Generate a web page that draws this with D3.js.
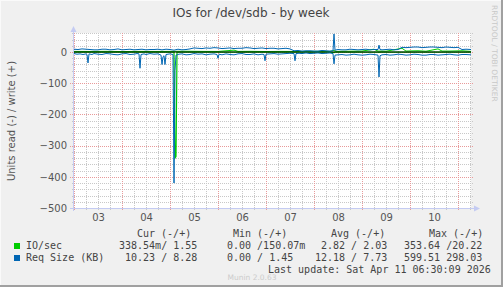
<!DOCTYPE html>
<html>
<head>
<meta charset="utf-8">
<script src="https://cdn.jsdelivr.net/npm/d3@7"></script>
<style>
  html, body { margin: 0; padding: 0; background: #F0F0F0; }
  svg { display: block; }
  .mono { font-family: "DejaVu Sans Mono", monospace; font-size: 10px; fill: #444; white-space: pre; }
  .sans { font-family: "DejaVu Sans", sans-serif; }
</style>
</head>
<body>
<script>
// hours after Apr 3 2026 00:00 (UTC), value
const ioRead = [[0,-0.5],[8,-0.3],[16,-0.6],[24,-0.4],[32,-0.5],[40,-0.3],[48,-0.4],[50,-0.5],[50.5,-340],[51,-335],[51.5,-0.6],[56,-0.4],[64,-0.3],[72,-0.5],[80,-0.3],[88,-0.4],[96,-0.3],[104,-0.5],[112,-0.4],[120,-0.3],[128,-0.4],[130,-2],[130.5,-0.4],[136,-0.3],[144,-0.5],[152,-0.4],[152.5,-1.5],[153,-0.4],[160,-0.3],[168,-0.5],[176,-0.4],[184,-0.3],[192,-0.4],[198.5,-0.3]];
const ioWrite = [[0,2],[8,1.8],[16,2.2],[24,1.5],[32,2],[40,1.8],[48,2],[56,2.5],[64,2],[72,1.8],[80,6],[82,2],[88,2.2],[96,1.6],[104,2],[112,1.8],[120,2.2],[128,2],[130,5],[131,2],[136,2.4],[144,3],[150,9],[152,3],[156,2.5],[164,12],[166,3],[172,4],[176,2.5],[182,10],[184,3],[188,3],[194,4],[198.5,2]];
const reqRead = [[0,-5],[1.5,-7],[3,-6],[4.5,-8],[6,-6],[6.5,-8],[7,-35],[7.5,-6],[9,-8],[10,-5],[12,-7],[14,-8],[16,-5],[18,-6],[20,-8],[22,-9],[24,-6],[26,-5],[28,-8],[30,-7],[31.5,-5],[32.5,-6],[33,-52],[33.5,-8],[35,-6],[36,-8],[38,-5],[40,-7],[42,-6],[43.5,-10],[44,-40],[44.5,-15],[45,-12],[45.5,-40],[46,-8],[48,-6],[49.5,-8],[50,-420],[50.5,-60],[51,-10],[52.5,-7],[54,-6],[56,-9],[58,-8],[60,-5],[62,-7],[64,-6],[66,-9],[68,-7],[70,-6],[71.5,-8],[72,-20],[72.5,-7],[74,-9],[76,-6],[78,-8],[80,-9],[82,-6],[84,-5],[86,-8],[88,-8],[90,-6],[92,-9],[94,-7],[95,-8],[95.5,-28],[96,-7],[98,-6],[100,-5],[102,-7],[104,-6],[106,-5],[108,-4],[110,-5],[110.5,-28],[111,-5],[112.5,-4],[114,-5],[116,-3],[118,-5],[120,-4],[122,-3],[124,-5],[126,-4],[128,-3],[129.5,-5],[130,-38],[130.5,-10],[132,-9],[134,-8],[136,-10],[138,-9],[140,-7],[142,-9],[144,-10],[146,-9],[148,-7],[150,-8],[152,-10],[152.5,-80],[153,-12],[154,-9],[156,-8],[158,-10],[160,-9],[162,-7],[164,-8],[166,-10],[168,-9],[170,-7],[172,-8],[174,-10],[176,-10],[178,-8],[180,-8],[182,-10],[184,-9],[186,-8],[188,-7],[190,-9],[192,-10],[194,-8],[196,-8],[198.5,-9]];
const reqWrite = [[0,9],[2,8],[4,10],[6,9],[8,8],[10,7],[12,7],[14,9],[16,9],[18,7],[20,8],[22,10],[24,7],[26,8],[28,9],[30,7],[32,8],[34,9],[36,7],[38,8],[40,8],[42,9],[44,7],[46,9],[48,8],[50,6],[52,9],[54,7],[56,8],[58,10],[60,13],[62,12],[64,11],[66,13],[68,12],[70,14],[72,13],[74,11],[76,12],[78,13],[80,11],[82,12],[84,12],[86,14],[88,13],[90,11],[92,12],[94,13],[96,11],[98,12],[100,12],[102,10],[104,11],[106,12],[108,10],[110,4],[112,5],[114,3],[116,4],[118,4],[120,3],[122,3],[124,5],[126,4],[128,3],[129.5,4],[130,58],[130.5,6],[132,8],[134,7],[136,7],[138,9],[140,8],[142,7],[144,8],[146,9],[148,7],[150,8],[152,8],[152.5,22],[153,8],[154,7],[156,8],[158,9],[160,7],[162,8],[164,15],[166,14],[168,15],[170,16],[172,16],[174,14],[176,15],[178,16],[180,16],[182,15],[184,14],[186,16],[188,15],[190,14],[192,15],[194,8],[196,9],[198.5,8]];

const yTicks = [0, -100, -200, -300, -400, -500];
const dayLabels = ['03','04','05','06','07','08','09','10'];

const legendRows = [
  { name: 'IO/sec', color: '#00CC00', cur: '338.54m/ 1.55', min: '0.00 /150.07m', avg: ' 2.82 / 2.03', max: '353.64 /20.22' },
  { name: 'Req Size (KB)', color: '#0066B3', cur: ' 10.23 / 8.28', min: '0.00 / 1.45', avg: '12.18 / 7.73', max: '599.51 298.03' }
];

const W = 503, H = 287;
const start = Date.UTC(2026, 3, 3, 0, 0);
const toDate = h => new Date(start + h * 3600e3);

const svg = d3.select('body').append('svg').attr('width', W).attr('height', H);

// frame
svg.append('rect').attr('width', W).attr('height', H).attr('fill', '#F0F0F0');
svg.append('rect').attr('x', W - 2).attr('width', 2).attr('height', H).attr('fill', '#A0A0A0');
svg.append('rect').attr('y', H - 2).attr('width', W).attr('height', 2).attr('fill', '#A0A0A0');
svg.append('rect').attr('width', W - 2).attr('height', 1).attr('fill', '#FAFAFA');
svg.append('rect').attr('width', 1).attr('height', H - 2).attr('fill', '#FAFAFA');

const x = d3.scaleUtc().domain([toDate(0), toDate(198.5)]).range([74, 471]);
const y = d3.scaleLinear().domain([-500, 60]).range([208, 33.3]);

svg.append('rect').attr('x', 74).attr('y', 33).attr('width', 397).attr('height', 175).attr('fill', '#FFFFFF');

const grid = svg.append('g').attr('shape-rendering', 'crispEdges');

// minor grid
d3.range(-500, 61, 20).filter(v => v % 100 !== 0).forEach(v => {
  grid.append('line').attr('x1', 72).attr('x2', 473).attr('y1', Math.round(y(v)) + 0.5).attr('y2', Math.round(y(v)) + 0.5)
    .attr('stroke', '#C8C8C8').attr('stroke-dasharray', '1,1');
});
d3.utcHour.every(6).range(toDate(0), toDate(198.6)).filter(d => d.getUTCHours() !== 0).forEach(d => {
  grid.append('line').attr('x1', Math.round(x(d)) + 0.5).attr('x2', Math.round(x(d)) + 0.5).attr('y1', 33).attr('y2', 210)
    .attr('stroke', '#C8C8C8').attr('stroke-dasharray', '1,1');
});
// major grid
yTicks.forEach(v => {
  grid.append('line').attr('x1', 70).attr('x2', 474).attr('y1', Math.round(y(v)) + 0.5).attr('y2', Math.round(y(v)) + 0.5)
    .attr('stroke', '#E89A9A').attr('stroke-dasharray', '1,1');
});
d3.utcDay.range(toDate(0), toDate(198.6)).forEach(d => {
  grid.append('line').attr('x1', Math.round(x(d)) + 0.5).attr('x2', Math.round(x(d)) + 0.5).attr('y1', 33).attr('y2', 211)
    .attr('stroke', '#E89A9A').attr('stroke-dasharray', '1,1');
});

// series
const line = d3.line().x(d => x(toDate(d[0]))).y(d => y(d[1]));
const plot = svg.append('g');
plot.append('path').datum(ioRead).attr('d', line).attr('fill', 'none').attr('stroke', '#00CC00').attr('stroke-width', 1.2);
plot.append('path').datum(ioWrite).attr('d', line).attr('fill', 'none').attr('stroke', '#00CC00').attr('stroke-width', 1);
plot.append('line').attr('x1', 74).attr('x2', 471).attr('y1', y(0)).attr('y2', y(0)).attr('stroke', '#000').attr('stroke-width', 1);
plot.append('path').datum(reqRead).attr('d', line).attr('fill', 'none').attr('stroke', '#0066B3').attr('stroke-width', 1);
plot.append('path').datum(reqWrite).attr('d', line).attr('fill', 'none').attr('stroke', '#0066B3').attr('stroke-width', 1);

// axes lines + arrows
const axisCol = '#C4CBF2';
svg.append('line').attr('x1', 70).attr('x2', 476).attr('y1', 208.5).attr('y2', 208.5).attr('stroke', axisCol);
svg.append('line').attr('x1', 73.5).attr('x2', 73.5).attr('y1', 211).attr('y2', 30).attr('stroke', axisCol);
svg.append('path').attr('d', 'M73.5,26 L70.5,32 L76.5,32 Z').attr('fill', axisCol);
svg.append('path').attr('d', 'M480,208.5 L474,205.5 L474,211.5 Z').attr('fill', axisCol);

// y tick labels
const yAxis = svg.append('g').attr('transform', 'translate(74,0)')
  .call(d3.axisLeft(y).tickValues(yTicks).tickSize(0).tickPadding(7).tickFormat(d3.format('d')));
yAxis.select('.domain').remove();
yAxis.selectAll('text').attr('font-family', 'DejaVu Sans, sans-serif').attr('font-size', 10).attr('fill', '#555');

// x labels at noon
const noon = dayLabels.map((_, i) => toDate(i * 24 + 12));
const xAxis = svg.append('g').attr('transform', 'translate(0,208)')
  .call(d3.axisBottom(x).tickValues(noon).tickSize(0).tickPadding(6).tickFormat((d, i) => dayLabels[i]));
xAxis.select('.domain').remove();
xAxis.selectAll('text').attr('font-family', 'DejaVu Sans, sans-serif').attr('font-size', 10).attr('fill', '#555');

// titles
svg.append('text').attr('class', 'sans').attr('x', 251).attr('y', 17).attr('text-anchor', 'middle')
  .attr('font-size', 12).attr('fill', '#444').text('IOs for /dev/sdb - by week');
svg.append('text').attr('class', 'sans').attr('transform', 'translate(15,121) rotate(-90)').attr('text-anchor', 'middle')
  .attr('font-size', 10).attr('fill', '#555').text('Units read (-) / write (+)');
svg.append('text').attr('class', 'sans').attr('transform', 'translate(492,5) rotate(90)').attr('text-anchor', 'start')
  .attr('font-size', 7.5).attr('fill', '#C8C8C8').text('RRDTOOL / TOBI OETIKER');

// legend
const lg = svg.append('g');
[['Cur (-/+)', 137], ['Min (-/+)', 233], ['Avg (-/+)', 331], ['Max (-/+)', 429]].forEach(([t, lx]) => {
  lg.append('text').attr('class', 'mono').attr('x', lx).attr('y', 237).text(t);
});
legendRows.forEach((r, i) => {
  const by = 249 + i * 12;
  lg.append('rect').attr('x', 14).attr('y', by - 6).attr('width', 6).attr('height', 6).attr('fill', r.color);
  lg.append('text').attr('class', 'mono').attr('x', 26).attr('y', by).text(r.name);
  lg.append('text').attr('class', 'mono').attr('x', 119).attr('y', by).text(r.cur);
  lg.append('text').attr('class', 'mono').attr('x', 227).attr('y', by).text(r.min);
  lg.append('text').attr('class', 'mono').attr('x', 315).attr('y', by).text(r.avg);
  lg.append('text').attr('class', 'mono').attr('x', 404).attr('y', by).text(r.max);
});
lg.append('text').attr('class', 'mono').attr('x', 268).attr('y', 273).text('Last update: Sat Apr 11 06:30:09 2026');
svg.append('text').attr('class', 'sans').attr('x', 252).attr('y', 280).attr('text-anchor', 'middle')
  .attr('font-size', 7.5).attr('fill', '#CCCCCC').text('Munin 2.0.63');
</script>
</body>
</html>
